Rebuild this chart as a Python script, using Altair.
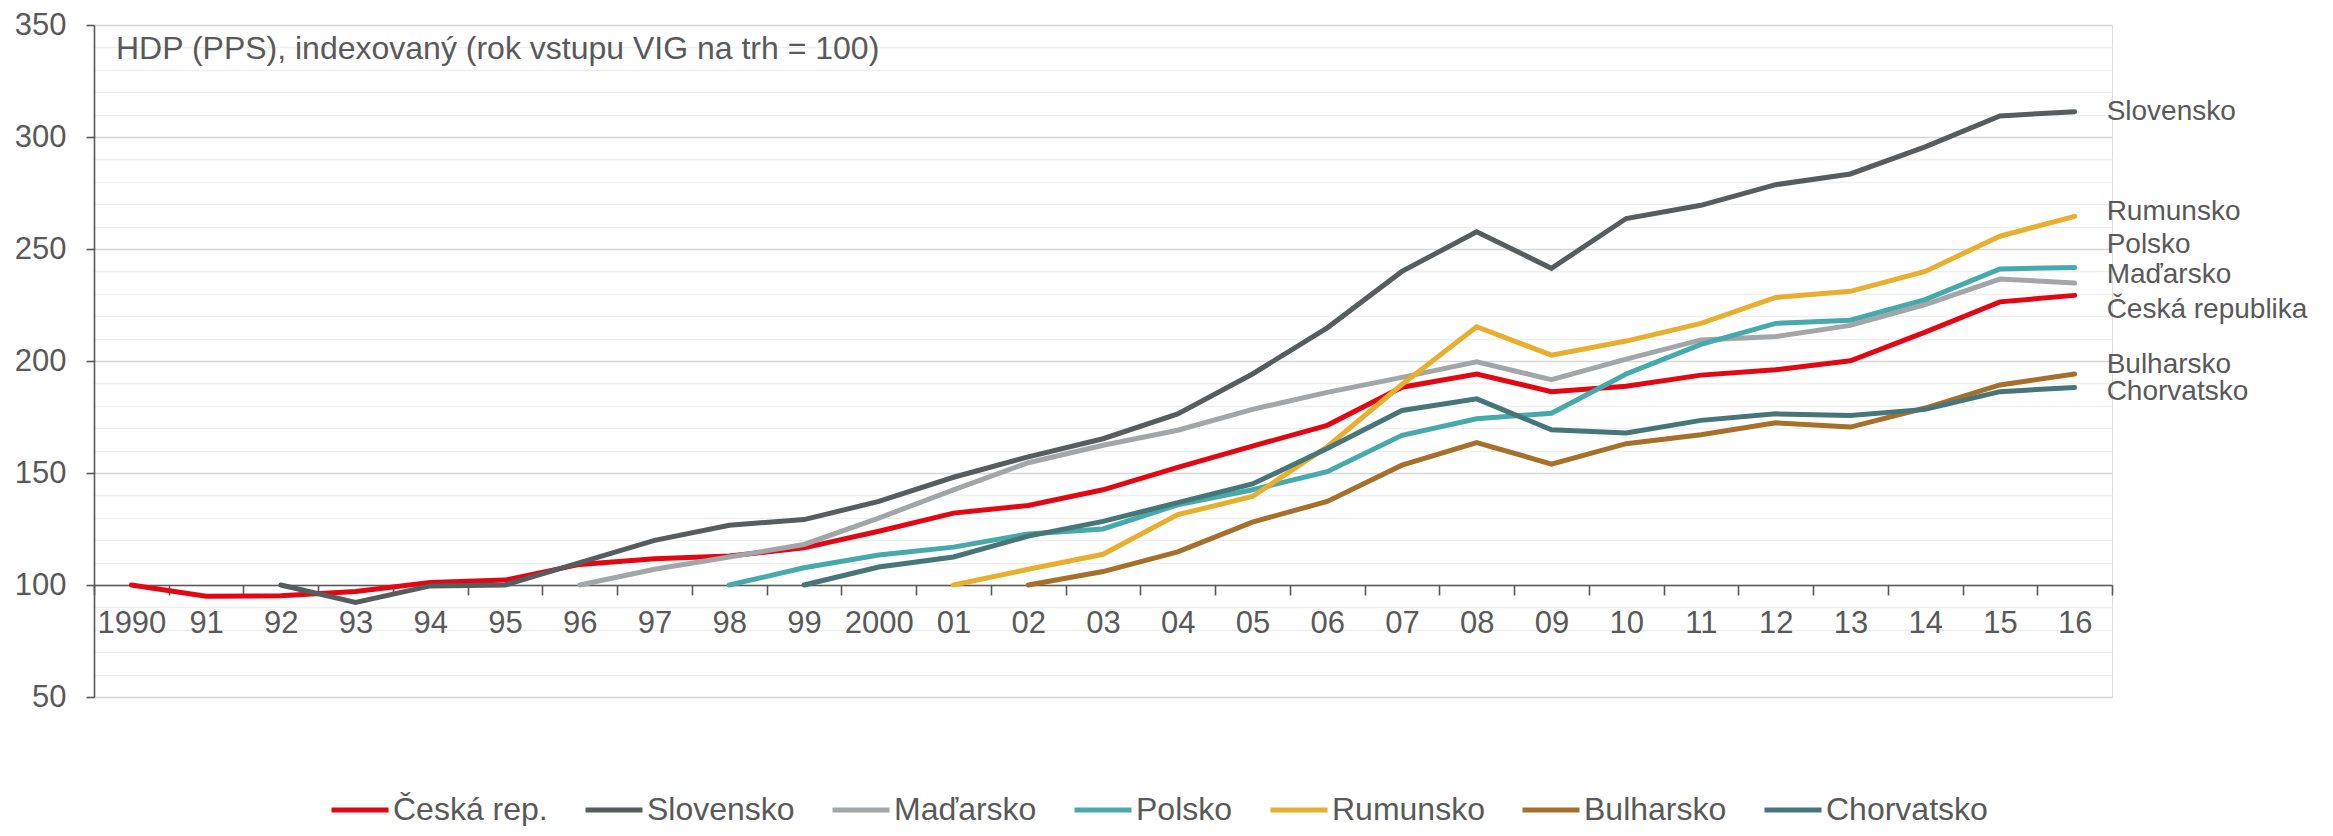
import altair as alt
import pandas as pd

years = ["1990", "91", "92", "93", "94", "95", "96", "97", "98", "99", "2000",
         "01", "02", "03", "04", "05", "06", "07", "08", "09", "10", "11", "12",
         "13", "14", "15", "16"]

series_names = ["Česká rep.", "Slovensko", "Maďarsko", "Polsko", "Rumunsko",
                "Bulharsko", "Chorvatsko"]
series_colors = ["#e30613", "#575c5f", "#a2a6a8", "#46a9ab", "#e8ae2d",
                 "#a66f2a", "#467678"]

cz = [100, 95, 95.2, 97.1, 101.1, 102.2, 109.2, 111.7, 112.9, 116.6, 124,
      132.1, 135.5, 142.5, 152.5, 162, 171.3, 188.3, 194.2, 186.3, 188.7,
      193.7, 196.1, 200.1, 212.9, 226.4, 229.3]
sk = [None, None, 100, 92.2, 99.6, 100, 110, 119.9, 126.7, 129.2, 137.3,
      148.1, 157.2, 165.3, 176.4, 194.2, 214.8, 240, 257.7, 241.4, 263.6,
      269.5, 278.7, 283.5, 295.6, 309.4, 311.3]
hu = [None] * 6 + [100, 107, 112.5, 118.1, 129.9, 142.5, 154.6, 162.4, 169.1,
                   178.4, 186, 192.7, 199.6, 191.7, 200.8, 209.4, 210.9,
                   215.9, 225.2, 236.6, 234.8]
pl = [None] * 8 + [100, 107.7, 113.4, 116.9, 122.8, 125, 135.8, 142.5, 150.6,
                   166.8, 174.2, 176.7, 194.2, 207.4, 216.8, 218.2, 227.4,
                   241.1, 241.7]
ro = [None] * 11 + [100, 107, 113.7, 131.4, 139.5, 161.7, 189.5, 215.3, 202.6,
                    208.9, 216.8, 228.4, 231.1, 240, 255.7, 264.6]
bg = [None] * 12 + [100, 106, 114.8, 128.1, 137.3, 153.5, 163.6, 154, 163.1,
                    167.1, 172.4, 170.5, 179, 189.3, 194.2]
hr = [None] * 9 + [100, 108, 112.5, 121.8, 128.4, 136.8, 145.1, 160.9, 177.9,
                   183.1, 169.3, 167.9, 173.5, 176.4, 175.7, 178.4, 186.3,
                   188.2]
all_series = [cz, sk, hu, pl, ro, bg, hr]

end_labels = ["Slovensko", "Rumunsko", "Polsko", "Maďarsko", "Česká republika",
              "Bulharsko", "Chorvatsko"]
end_label_y = [311, 266.7, 251.6, 238.3, 222.8, 198.4, 186]

chart_title = "HDP (PPS), indexovaný (rok vstupu VIG na trh = 100)"

rows = []
for k, (name, vals) in enumerate(zip(series_names, all_series)):
    for yr, v in zip(years, vals):
        if v is not None:
            rows.append({"rok": yr, "hodnota": v, "zeme": name, "poradi": k})
df = pd.DataFrame(rows)

lab_df = pd.DataFrame({"rok": [years[-1]] * len(end_labels),
                       "hodnota": end_label_y, "text": end_labels})
title_df = pd.DataFrame({"text": [chart_title]})

TXT = "#595959"
FONT = "Liberation Sans, Arial, sans-serif"

x_enc = alt.X(
    "rok:O", sort=years, bandPosition=0.5, title=None,
    scale=alt.Scale(type="band", domain=years, paddingInner=0, paddingOuter=0),
    axis=alt.Axis(orient="bottom", offset=-112, tickBand="extent",
                  domainColor=TXT, domainWidth=1.6, tickColor=TXT, tickWidth=1.6,
                  tickSize=10, labelPadding=13, labelFontSize=31,
                  labelColor=TXT, labelAngle=0, labelOverlap=False, grid=False),
)
y_enc = alt.Y(
    "hodnota:Q", title=None,
    scale=alt.Scale(domain=[50, 350], nice=False, zero=False),
    axis=alt.Axis(values=list(range(50, 351, 10)),
                  labelExpr="datum.value % 50 === 0 ? datum.label : ''",
                  labelOverlap=False, labelFontSize=31, labelColor=TXT,
                  labelPadding=20, tickSize=8, tickColor=TXT, tickWidth=1.6,
                  tickOpacity={"condition": {"test": "datum.value % 50 === 0", "value": 1}, "value": 0},
                  domainColor=TXT, domainWidth=1.6,
                  gridColor={"condition": {"test": "datum.value % 50 === 0", "value": "#d6d6d6"}, "value": "#efefef"},
                  gridWidth=1.6),
)

lines = alt.Chart(df).mark_line(strokeWidth=5, strokeCap="round").encode(
    x=x_enc,
    y=y_enc,
    color=alt.Color(
        "zeme:N",
        scale=alt.Scale(domain=series_names, range=series_colors),
        legend=alt.Legend(orient="none", legendX=235, legendY=754,
                          direction="horizontal", title=None,
                          symbolType="stroke", symbolSize=3249,
                          symbolStrokeWidth=5, labelFontSize=32,
                          labelColor=TXT, columnPadding=27, labelOffset=2,
                          padding=0, labelLimit=400),
    ),
    order=alt.Order("poradi:Q"),
)

labels = alt.Chart(lab_df).mark_text(
    align="left", baseline="middle", dx=32, fontSize=28, color=TXT
).encode(
    x=x_enc,
    y=y_enc,
    text="text:N",
)

title = alt.Chart(title_df).mark_text(
    align="left", baseline="middle", fontSize=32, color=TXT
).encode(x=alt.value(22), y=alt.value(24), text="text:N")

chart = alt.layer(lines, labels, title).properties(
    width=2018, height=672,
    autosize=alt.AutoSizeParams(type="none"),
    padding={"left": 86, "top": 17, "right": 196, "bottom": 129},
).configure_view(stroke=None).configure(font=FONT)

chart.save("out.html", embed_options={"renderer": "svg", "actions": False})
